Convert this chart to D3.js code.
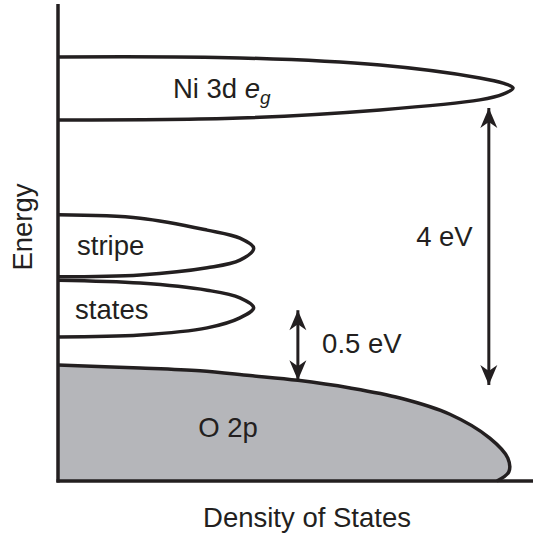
<!DOCTYPE html>
<html>
<head>
<meta charset="utf-8">
<script src="https://cdn.jsdelivr.net/npm/d3@7"></script>
<style>
  body { margin: 0; background: #fff; }
  text { font-family: "Liberation Sans", Arial, sans-serif; fill: #231f20; }
</style>
</head>
<body>
<div id="chart"></div>
<script>
// band outlines: [density, energy] (arbitrary units)
const ni_3d_eg = [[0, 8.89], [3.83, 8.87], [6.78, 8.72], [8.88, 8.45], [9.37, 8.34], [9.58, 8.24],
                  [9.37, 8.11], [8.88, 7.99], [6.78, 7.78], [3.83, 7.61], [0, 7.57]];
const stripe_band = [[0, 5.58], [1.73, 5.51], [3.14, 5.26], [3.83, 5.09], [4.12, 4.88],
                     [3.83, 4.63], [3.14, 4.47], [1.73, 4.32], [0, 4.28]];
const states_band = [[0, 4.21], [1.73, 4.15], [3.14, 4.00], [3.83, 3.84], [4.12, 3.63],
                     [3.83, 3.42], [3.14, 3.21], [1.73, 3.06], [0, 3.02]];
const o_2p = [[0, 2.43], [1.73, 2.37], [2.99, 2.31], [4.04, 2.21], [5.05, 2.11], [6.15, 1.95],
              [7.20, 1.74], [8.25, 1.40], [9.09, 0.90], [9.47, 0.48], [9.49, 0.19], [9.24, 0]];

// gap arrows: x, from energy, to energy
const gaps = [
    {label: "4 eV",   x: 9.07, y1: 7.82, y2: 2.01},
    {label: "0.5 eV", x: 5.05, y1: 3.58, y2: 2.11}
];
// labels: text, density, energy (baseline)
const labels = [
    {text: "stripe", x: 0.40, y: 4.74},
    {text: "states", x: 0.36, y: 3.40},
    {text: "0.5 eV", x: 5.56, y: 2.68},
    {text: "4 eV",   x: 7.54, y: 4.93},
    {text: "O 2p",   x: 2.95, y: 0.92}
];

const W = 534, H = 533;
const ink = "#231f20";
const font_size = 27.5;

const svg = d3.select("#chart").append("svg")
    .attr("width", W)
    .attr("height", H);

// 座標変換
const x = d3.scaleLinear().domain([0, 10]).range([58, 533]);
const y = d3.scaleLinear().domain([0, 10]).range([481, 4]);

const line = d3.line()
    .x(function(d){ return x(d[0]); })
    .y(function(d){ return y(d[1]); })
    .curve(d3.curveCatmullRom.alpha(0.5));

// arrow head
const defs = svg.append("defs");
defs.append("marker")
    .attr("id", "head")
    .attr("markerUnits", "userSpaceOnUse")
    .attr("viewBox", "-22 -10 24 20")
    .attr("markerWidth", 24)
    .attr("markerHeight", 20)
    .attr("refX", 0)
    .attr("refY", 0)
    .attr("orient", "auto-start-reverse")
    .append("path")
    .attr("d", "M0,0 L-20,-8.5 L-14,0 L-20,8.5 Z")
    .attr("fill", ink);

// O 2p (filled, closed along the baseline)
svg.append("path")
    .attr("d", line(o_2p) + "L" + x(0) + "," + y(0) + "Z")
    .attr("fill", "#b5b6ba")
    .attr("stroke", "none");
svg.append("path")
    .attr("d", line(o_2p))
    .attr("fill", "none")
    .attr("stroke", ink)
    .attr("stroke-width", 3.5);

// empty bands
svg.selectAll("path.band")
    .data([ni_3d_eg, stripe_band, states_band])
    .enter()
    .append("path")
    .attr("class", "band")
    .attr("d", function(d){ return line(d); })
    .attr("fill", "none")
    .attr("stroke", ink)
    .attr("stroke-width", 3.5);

// axes
svg.append("line")
    .attr("x1", x(0)).attr("y1", y(10))
    .attr("x2", x(0)).attr("y2", y(0) + 1.5)
    .attr("stroke", ink).attr("stroke-width", 3.5);
svg.append("line")
    .attr("x1", x(0) - 1.5).attr("y1", y(0))
    .attr("x2", x(10)).attr("y2", y(0))
    .attr("stroke", ink).attr("stroke-width", 3.5);

// gap arrows
svg.selectAll("line.gap")
    .data(gaps)
    .enter()
    .append("line")
    .attr("class", "gap")
    .attr("x1", function(d){ return x(d.x); })
    .attr("x2", function(d){ return x(d.x); })
    .attr("y1", function(d){ return y(d.y1); })
    .attr("y2", function(d){ return y(d.y2); })
    .attr("stroke", ink)
    .attr("stroke-width", 3)
    .attr("marker-start", "url(#head)")
    .attr("marker-end", "url(#head)");

// labels
svg.selectAll("text.label")
    .data(labels)
    .enter()
    .append("text")
    .attr("class", "label")
    .attr("x", function(d){ return x(d.x); })
    .attr("y", function(d){ return y(d.y); })
    .attr("font-size", font_size)
    .text(function(d){ return d.text; });

// Ni 3d e_g
const ni = svg.append("text")
    .attr("x", x(2.42))
    .attr("y", y(8.03))
    .attr("font-size", font_size);
ni.append("tspan").text("Ni 3d ");
ni.append("tspan").attr("font-style", "italic").text("e");
ni.append("tspan").attr("font-style", "italic").attr("font-size", 19).attr("dy", 6).text("g");

// axis titles
svg.append("text")
    .attr("transform", "translate(32," + 227 + ") rotate(-90)")
    .attr("text-anchor", "middle")
    .attr("font-size", font_size)
    .text("Energy");
svg.append("text")
    .attr("x", 307)
    .attr("y", 527)
    .attr("text-anchor", "middle")
    .attr("font-size", font_size)
    .text("Density of States");
</script>
</body>
</html>
